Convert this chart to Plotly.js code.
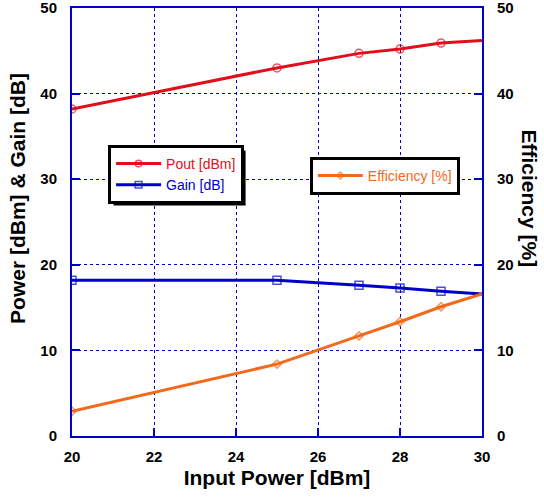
<!DOCTYPE html>
<html>
<head>
<meta charset="utf-8">
<script src="https://cdn.plot.ly/plotly-3.0.1.min.js"></script>
<style>html,body{margin:0;padding:0;background:#fff}#chart{width:544px;height:499px}</style>
</head>
<body>
<div id="chart"></div>
<script>
const inputPower = [20, 25, 27, 28, 29, 30];
const pout = [38.2, 43.0, 44.7, 45.2, 45.9, 46.2];
const gain = [18.2, 18.2, 17.6, 17.3, 16.9, 16.6];
const efficiency = [2.9, 8.4, 11.7, 13.35, 15.1, 16.6];
const markerSizes = [8, 8, 8, 8, 8, 0];
const xTicks = [20, 22, 24, 26, 28, 30];
const yTicks = [0, 10, 20, 30, 40, 50];

const RED = '#e0101a', BLUE = '#0000cc', ORANGE = '#f26a1b';
const FONT = 'Arial, "Liberation Sans", sans-serif';

const traces = [
  {x: inputPower, y: pout, name: '<span style="color:' + RED + '">Pout [dBm]</span>', mode: 'lines+markers',
   line: {color: RED, width: 3}, marker: {symbol: 'circle-open', size: markerSizes, color: RED, line: {width: 1.5}},
   legend: 'legend'},
  {x: inputPower, y: gain, name: '<span style="color:' + BLUE + '">Gain [dB]</span>', mode: 'lines+markers',
   line: {color: BLUE, width: 3}, marker: {symbol: 'square-open', size: markerSizes, color: BLUE, line: {width: 1.5}},
   legend: 'legend'},
  {x: inputPower, y: efficiency, name: '<span style="color:' + ORANGE + '">Efficiency [%]</span>', mode: 'lines+markers',
   yaxis: 'y2', line: {color: ORANGE, width: 3}, marker: {symbol: 'diamond-open', size: markerSizes.map(s => s * 0.8), color: ORANGE, line: {width: 1.5}},
   legend: 'legend2'}
];

const tickFont = {family: FONT, size: 15, color: '#000', weight: 700};
const titleFont = {family: FONT, size: 21, color: '#000', weight: 700};
const axisCommon = {
  showline: true, linecolor: BLUE, linewidth: 2,
  ticks: 'inside', ticklen: 8, tickwidth: 2, tickcolor: BLUE,
  tickfont: tickFont, ticklabeloverflow: 'allow',
  zeroline: false
};

const layout = {
  width: 544, height: 499,
  margin: {l: 72, r: 62, t: 8, b: 63},
  paper_bgcolor: '#fff', plot_bgcolor: '#fff',
  showlegend: true,
  xaxis: Object.assign({}, axisCommon, {
    range: [20, 30], tickvals: xTicks, mirror: true,
    showgrid: true, gridcolor: BLUE, griddash: 'dot', gridwidth: 1,
    ticklabelstandoff: 6,
    title: {text: 'Input Power [dBm]', font: titleFont, standoff: 6}
  }),
  yaxis: Object.assign({}, axisCommon, {
    range: [0, 50], tickvals: yTicks,
    showgrid: true, gridcolor: BLUE, griddash: 'dot', gridwidth: 1,
    ticklabelstandoff: 10
  }),
  yaxis2: Object.assign({}, axisCommon, {
    range: [0, 50], tickvals: yTicks, overlaying: 'y', side: 'right',
    showgrid: false, ticklabelstandoff: 10
  }),
  legend: {
    x: 0.088, y: 0.68, xanchor: 'left', yanchor: 'top',
    bgcolor: '#fff', bordercolor: '#000', borderwidth: 3, itemwidth: 45,
    font: {family: FONT, size: 14}, tracegroupgap: 0
  },
  legend2: {
    x: 0.58, y: 0.652, xanchor: 'left', yanchor: 'top',
    bgcolor: '#fff', bordercolor: '#000', borderwidth: 3, itemwidth: 45,
    font: {family: FONT, size: 14}
  },
  annotations: [{
    text: 'Power [dBm] & Gain [dB]', xref: 'paper', yref: 'paper', x: -0.133, y: 0.555,
    xanchor: 'center', yanchor: 'middle', showarrow: false, textangle: -90, font: titleFont
  }, {
    text: 'Efficiency [%]', xref: 'paper', yref: 'paper', x: 1.117, y: 0.555,
    xanchor: 'center', yanchor: 'middle', showarrow: false, textangle: 90, font: titleFont
  }]
};

Plotly.newPlot('chart', traces, layout, {displayModeBar: false, staticPlot: true}).then(gd => {
  // drop shadows behind the legend boxes (decoration only)
  const fl = gd._fullLayout, sz = fl._size;
  const shapes = [];
  gd.querySelectorAll('.legend .bg').forEach(bg => {
    const r = bg.getBoundingClientRect();
    const c = gd.getBoundingClientRect();
    const x0 = r.left - c.left + 4, x1 = r.right - c.left + 3;
    const y0 = r.top - c.top + 4, y1 = r.bottom - c.top + 3;
    shapes.push({type: 'rect', xref: 'paper', yref: 'paper', layer: 'above',
      x0: (x0 - sz.l) / sz.w, x1: (x1 - sz.l) / sz.w,
      y0: 1 - (y0 - sz.t) / sz.h, y1: 1 - (y1 - sz.t) / sz.h,
      fillcolor: '#000', line: {width: 0}});
  });
  return Plotly.relayout(gd, {shapes: shapes});
});
</script>
</body>
</html>
